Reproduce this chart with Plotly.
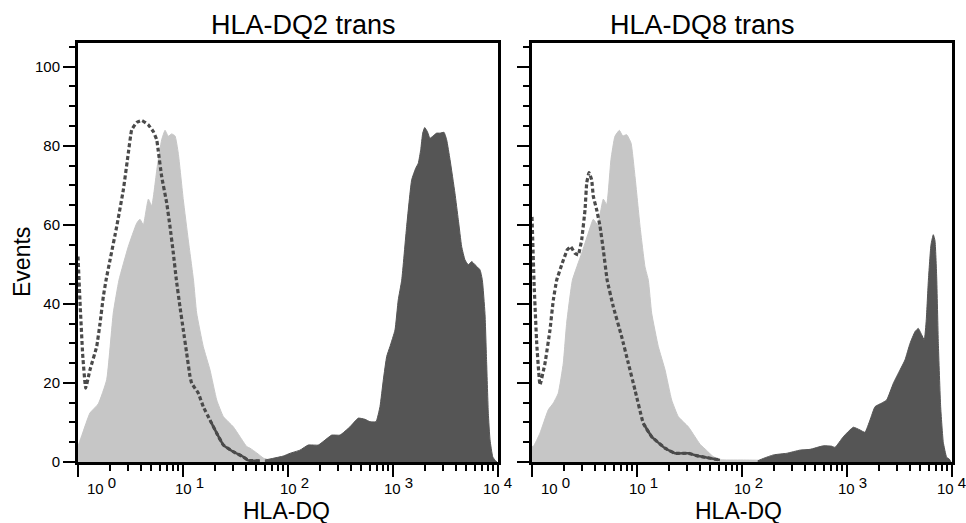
import plotly.graph_objects as go

FONT = "Liberation Sans, Arial, Helvetica, sans-serif"

# ---- data: x positions are log10(HLA-DQ intensity), y are event counts ----
# HLA-DQ2 trans panel
dq2_ctrl_log = [0.0, 0.04, 0.114, 0.193, 0.273, 0.336, 0.39, 0.479, 0.559, 0.590, 0.622, 0.670, 0.702,
                0.755, 0.797, 0.829, 0.860, 0.892, 0.924, 0.955, 1.003, 1.050, 1.10, 1.130, 1.193,
                1.257, 1.321, 1.384, 1.479, 1.543, 1.607, 1.638, 1.702, 1.765, 1.829, 2.0, 2.21, 2.26]
dq2_ctrl_events = [4, 7, 12.4, 14.7, 20.8, 37.7, 46, 54.5, 60.4, 61.4, 60, 66.5, 64.8,
                   74.8, 81.5, 83.9, 82.4, 83, 82.5, 78.1, 66.3, 56.2, 46, 37.7, 29.2,
                   23.3, 15.7, 11.5, 8.9, 6.4, 3.9, 3.5, 2.3, 1.0, 0.5, 0.5, 0.4, 0]

dq2_pos_log = [1.78, 1.955, 2.019, 2.114, 2.193, 2.289, 2.416, 2.495, 2.59, 2.67, 2.733, 2.78, 2.838,
               2.876, 2.908, 2.94, 2.971, 3.019, 3.05, 3.083, 3.13, 3.178, 3.216, 3.241, 3.264, 3.283,
               3.302, 3.327, 3.352, 3.378, 3.416, 3.448, 3.486, 3.511, 3.543, 3.59, 3.622, 3.654,
               3.686, 3.717, 3.75, 3.781, 3.829, 3.851, 3.876, 3.892, 3.908, 3.924, 3.95, 3.97, 3.99]
dq2_pos_events = [0.5, 1.5, 2.2, 3, 4.3, 4.3, 6.8, 6.8, 8.9, 11.1, 10.8, 10.2, 10.2,
                  14, 20.8, 26.7, 29.2, 33.4, 41, 46, 59.6, 71.4, 74.3, 75.6, 79, 83.2,
                  84.6, 83.6, 81.9, 82.4, 83.2, 83.2, 83.4, 81.5, 76.5, 68, 61.3, 54.5,
                  51.1, 49.9, 50.7, 49.9, 48.6, 46, 37.6, 25, 12.3, 5.6, 1.3, 0.5, 0]

dq2_neg_log = [0.0, 0.02, 0.045, 0.073, 0.114, 0.178, 0.210, 0.241, 0.267, 0.305, 0.369, 0.432, 0.479,
               0.511, 0.559, 0.607, 0.670, 0.717, 0.750, 0.765, 0.797, 0.845, 0.876, 0.908, 0.937,
               0.971, 1.003, 1.035, 1.067, 1.083, 1.146, 1.193, 1.257, 1.321, 1.384, 1.479, 1.574,
               1.62, 1.73]
dq2_neg_events = [52, 40, 27, 18.7, 23.3, 29.2, 35.1, 41.8, 46, 51.1, 59.6, 68.9, 78.1,
                  84, 85.9, 86.4, 85.3, 83.6, 81.5, 78.6, 72.2, 65.5, 59.6, 52.8, 46,
                  39.3, 33.4, 27.5, 21.6, 19.9, 17.4, 14, 10.6, 7.3, 4.3, 2.6, 1.3,
                  0.4, 0.3]

# HLA-DQ8 trans panel
dq8_ctrl_log = [0.0, 0.012, 0.076, 0.155, 0.203, 0.25, 0.298, 0.33, 0.385, 0.473, 0.536, 0.584, 0.625,
                0.679, 0.711, 0.752, 0.79, 0.832, 0.864, 0.902, 0.943, 0.981, 1.029, 1.076, 1.108,
                1.14, 1.203, 1.267, 1.33, 1.393, 1.489, 1.552, 1.6, 1.66, 1.72, 1.78, 2.0, 2.2, 2.25]
dq8_ctrl_events = [4, 3.9, 7.3, 13.2, 14.9, 17.4, 25, 35.1, 46, 52.8, 57.9, 61.4, 60,
                   66.5, 65.1, 76.5, 82.4, 83.9, 82.5, 82.8, 80.7, 72.2, 59.6, 49.4, 46,
                   37.6, 29.2, 23.3, 15.7, 11.5, 8.9, 6.4, 4.5, 3.0, 1.5, 0.6, 0.5, 0.4, 0]

dq8_pos_log = [2.15, 2.203, 2.3, 2.425, 2.552, 2.648, 2.775, 2.854, 2.886, 2.965, 3.06, 3.124, 3.171,
               3.219, 3.267, 3.33, 3.378, 3.441, 3.505, 3.552, 3.6, 3.648, 3.679, 3.711, 3.736,
               3.755, 3.775, 3.80, 3.822, 3.838, 3.854, 3.87, 3.892, 3.917, 3.949, 3.975, 3.99]
dq8_pos_events = [0.3, 0.9, 1.8, 2.2, 3, 3.2, 4.1, 4, 3.7, 6.4, 8.8, 8.1, 7.5,
                  10.6, 14, 14.9, 15.7, 19.9, 23.3, 25.8, 30, 33, 33.8, 32.2, 30.9,
                  36, 46, 55, 57.5, 56, 47, 30, 14, 5, 1.2, 0.7, 0]

dq8_neg_log = [0.0, 0.02, 0.045, 0.076, 0.124, 0.171, 0.203, 0.235, 0.283, 0.336, 0.368, 0.41, 0.441,
               0.473, 0.505, 0.521, 0.543, 0.568, 0.584, 0.616, 0.648, 0.679, 0.716, 0.774, 0.854,
               0.917, 0.981, 1.06, 1.14, 1.267, 1.362, 1.489, 1.584, 1.648, 1.79]
dq8_neg_events = [62, 45, 30, 19.5, 25, 33.4, 41, 46, 49.9, 53.7, 54.5, 52.8, 52.4,
                  56.2, 63.8, 70.6, 73.2, 71.4, 67.2, 63.8, 59.6, 53.7, 46, 39.3, 31.7,
                  25, 18.2, 9.8, 6.4, 3.5, 2.2, 2.2, 1.5, 1.2, 0.5]

panel_titles = ["HLA-DQ2 trans", "HLA-DQ8 trans"]
x_title = "HLA-DQ"
y_title = "Events"
decades = [0, 1, 2, 3, 4]
decade_labels = ["10 <sup><span style='font-size:15px'>%d</span></sup>" % d for d in decades]
y_major = [0, 20, 40, 60, 80, 100]

LIGHT = "#c6c6c6"
DARK = "#555555"
LINE = "#4a4a4a"

fig = go.Figure()

panels = [
    ("x", "y", dq2_ctrl_log, dq2_ctrl_events, dq2_pos_log, dq2_pos_events, dq2_neg_log, dq2_neg_events, 1.2),
    ("x2", "y2", dq8_ctrl_log, dq8_ctrl_events, dq8_pos_log, dq8_pos_events, dq8_neg_log, dq8_neg_events, 1.0),
]

for xa, ya, cl, ce, pl, pe, nl, ne, solid_from in panels:
    fig.add_trace(go.Scatter(x=[10 ** v for v in cl], y=ce, xaxis=xa, yaxis=ya, mode="lines",
                             fill="tozeroy", fillcolor=LIGHT, line=dict(color=LIGHT, width=1,
                             shape="spline", smoothing=0.4), hoverinfo="skip"))
    fig.add_trace(go.Scatter(x=[10 ** v for v in pl], y=pe, xaxis=xa, yaxis=ya, mode="lines",
                             fill="tozeroy", fillcolor=DARK, line=dict(color=DARK, width=1,
                             shape="spline", smoothing=0.4), hoverinfo="skip"))
    fig.add_trace(go.Scatter(x=[10 ** v for v in nl], y=ne, xaxis=xa, yaxis=ya, mode="lines",
                             line=dict(color=LINE, width=3.2, dash="4px,2.5px",
                                       shape="spline", smoothing=0.3), hoverinfo="skip"))
    tail = [(10 ** v, e) for v, e in zip(nl, ne) if v >= solid_from]
    fig.add_trace(go.Scatter(x=[t[0] for t in tail], y=[t[1] for t in tail], xaxis=xa, yaxis=ya,
                             mode="lines", line=dict(color=LINE, width=2.5, shape="spline", smoothing=0.3),
                             hoverinfo="skip"))

W, H = 966, 523
tickvals = [10 ** d for d in decades]
minor_vals = [k * 10 ** d for d in decades[:-1] for k in range(2, 10)]

common_x = dict(type="log", range=[0, 4], tickmode="array", tickvals=tickvals, showticklabels=False,
                ticks="outside", ticklen=12, tickwidth=2, tickcolor="black",
                showline=True, linewidth=3, linecolor="black", mirror=True, automargin=False,
                showgrid=False, zeroline=False,
                minor=dict(tickmode="array", tickvals=minor_vals, ticks="outside",
                           ticklen=6, tickwidth=2, tickcolor="black", showgrid=False))
common_y = dict(range=[0, 106], tickmode="array", tickvals=y_major,
                ticks="outside", ticklen=12, tickwidth=2, tickcolor="black",
                showline=True, linewidth=3, linecolor="black", mirror=True, automargin=False,
                showgrid=False, zeroline=False,
                tickfont=dict(family=FONT, size=15, color="black"),
                minor=dict(dtick=5, ticks="outside", ticklen=6, tickwidth=2,
                           tickcolor="black", showgrid=False))

ydom = [61 / H, 480 / H]
fig.update_layout(
    width=W, height=H, margin=dict(l=0, r=0, t=0, b=0), autosize=False,
    paper_bgcolor="white", plot_bgcolor="white", showlegend=False,
    xaxis=dict(domain=[78 / W, 498 / W], anchor="y", **common_x),
    yaxis=dict(domain=ydom, anchor="x", **common_y),
    xaxis2=dict(domain=[532 / W, 952 / W], anchor="y2", **common_x),
    yaxis2=dict(domain=ydom, anchor="x2", showticklabels=False, **common_y),
)

ann = []
# decade tick labels, placed at each decade on the log axes (annotation x is in log10 units)
label_shift = [23.5, 6.5, 6.5, 5, -1]
for xa in ["x", "x2"]:
    for d, lab, sh in zip(decades, decade_labels, label_shift):
        ann.append(dict(text=lab, x=d, xref=xa, y=1 - 485 / H, yref="paper",
                        xanchor="center", yanchor="middle", xshift=sh, showarrow=False,
                        font=dict(family=FONT, size=15, color="black")))
for cx, title in zip([303, 702], panel_titles):
    ann.append(dict(text=title, x=cx / W, y=1 - 25 / H, xref="paper", yref="paper",
                    xanchor="center", yanchor="middle", showarrow=False,
                    font=dict(family=FONT, size=27, color="black")))
for cx in [286, 738]:
    ann.append(dict(text=x_title, x=cx / W, y=1 - 511 / H, xref="paper", yref="paper",
                    xanchor="center", yanchor="middle", showarrow=False,
                    font=dict(family=FONT, size=23, color="black")))
ann.append(dict(text=y_title, x=22 / W, y=1 - 262 / H, xref="paper", yref="paper",
                xanchor="center", yanchor="middle", showarrow=False, textangle=-90,
                font=dict(family=FONT, size=23, color="black")))
fig.update_layout(annotations=ann)

fig.write_html("out.html")
